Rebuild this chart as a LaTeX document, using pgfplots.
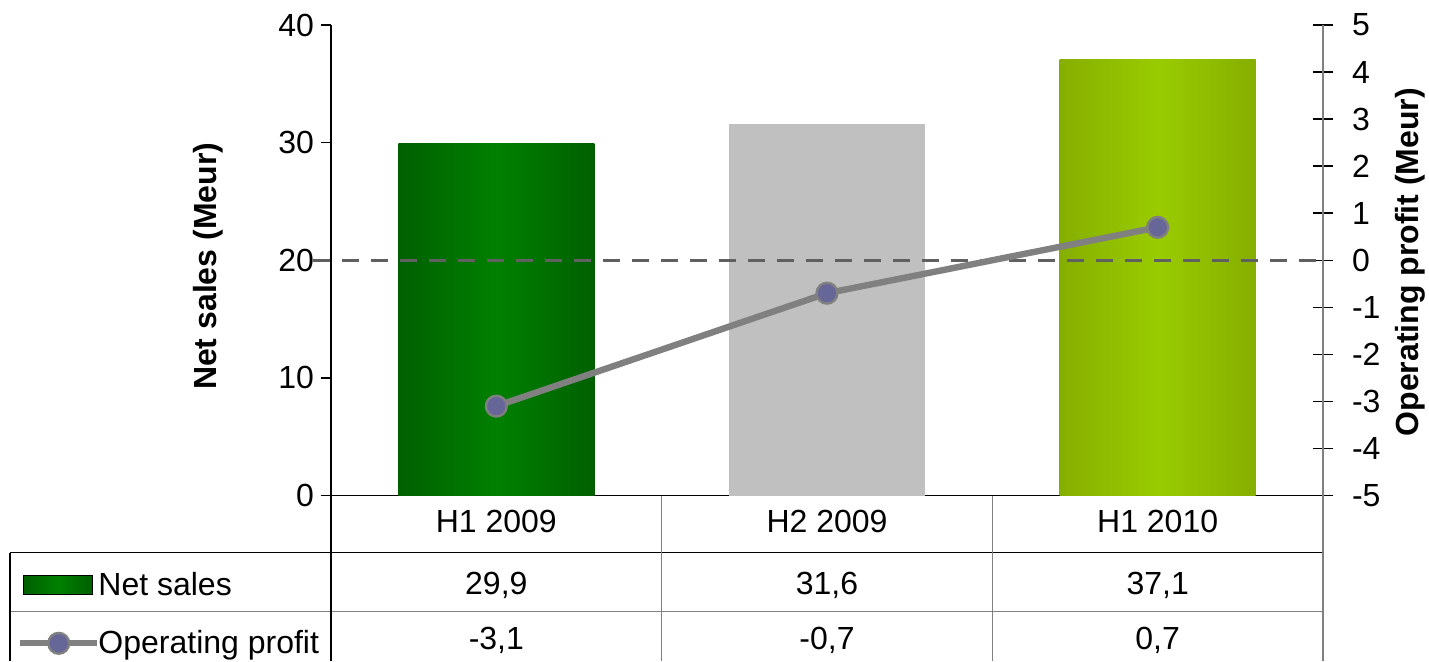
\documentclass[border=0pt]{standalone}
\usepackage{fontspec}
\setmainfont{Liberation Sans}
\usepackage{pgfplots}
\pgfplotsset{compat=1.18}

\definecolor{darkgreenE}{HTML}{006000}
\definecolor{darkgreenM}{HTML}{008000}
\definecolor{limeE}{HTML}{86AE00}
\definecolor{limeM}{HTML}{99CC00}
\definecolor{barGray}{HTML}{C0C0C0}
\definecolor{lineGray}{HTML}{808080}
\definecolor{markBlue}{HTML}{666699}
\definecolor{zeroGray}{HTML}{606060}

\newcommand\tabfont{\fontsize{16}{19}\selectfont}
\newcommand\labfont{\fontsize{16}{19}\selectfont\bfseries}

\begin{document}
\begin{tikzpicture}
\useasboundingbox (-165.5pt,-82.75pt) rectangle (549pt,247.75pt);

% Net sales bars, left axis
\begin{axis}[
  at={(0pt,0pt)}, anchor=south west,
  scale only axis, width=496pt, height=235.25pt,
  xmin=-0.5, xmax=2.5, ymin=0, ymax=40,
  axis x line=bottom, axis y line=left,
  axis line style={-, line width=0.75pt, black},
  xtick={0,1,2}, xticklabels={H1 2009, H2 2009, H1 2010},
  xtick style={draw=none},
  xticklabel style={anchor=base, yshift=-13.25pt},
  ytick={0,10,20,30,40},
  ytick style={line width=0.75pt, black},
  tick align=outside, major tick length=5pt,
  /pgf/number format/assume math mode=true,
  tick label style={font=\tabfont},
  ylabel={Net sales (Meur)},
  ylabel style={font=\labfont, at={(axis description cs:-0.124,0.487)}, anchor=center},
  clip=false,
]
\addplot[ybar, bar width=98pt, bar shift=0pt, draw=none,
  left color=darkgreenE, right color=darkgreenE, middle color=darkgreenM]
  coordinates {(0,29.9)};
\addplot[ybar, bar width=98pt, bar shift=0pt, draw=none, fill=barGray]
  coordinates {(1,31.6)};
\addplot[ybar, bar width=98pt, bar shift=0pt, draw=none,
  left color=limeE, right color=limeE, middle color=limeM]
  coordinates {(2,37.1)};
\end{axis}

% Operating profit line, right axis
\begin{axis}[
  at={(0pt,0pt)}, anchor=south west,
  scale only axis, width=496pt, height=235.25pt,
  xmin=-0.5, xmax=2.5, ymin=-5, ymax=5,
  axis x line=none, axis y line=right,
  axis line style={-, line width=0.75pt, lineGray},
  ytick={-5,-4,...,5},
  yticklabels={-5,-4,-3,-2,-1,0,1,2,3,4,5},
  yticklabel style={xshift=6pt},
  ytick style={line width=0.75pt, black},
  tick align=center, major tick length=10pt,
  tick label style={font=\tabfont},
  ylabel={Operating profit (Meur)},
  ylabel style={font=\labfont, at={(axis description cs:1.0877,0.496)}, anchor=center},
  clip=false,
  legend cell align=left,
  legend style={at={(axis description cs:-0.3165,-0.1626)}, anchor=north west,
    draw=none, fill=none, inner sep=0pt, outer sep=0pt,
    row sep=16pt, column sep=-1pt, font=\tabfont,
    nodes={inner sep=0pt}},
]
\addplot[zeroGray, line width=1.5pt, dash pattern=on 8.5pt off 6pt, forget plot]
  coordinates {(-0.554,0) (2.5,0)};
\addlegendimage{legend image code/.code={
  \fill[left color=darkgreenE, right color=darkgreenE, middle color=darkgreenM]
    (1.5pt,-4.75pt) rectangle (36pt,4.75pt);}}
\addlegendentry{Net sales}
\addplot[lineGray, line width=3.2pt, mark=*, mark size=5.2pt,
  mark options={fill=markBlue, draw=lineGray, line width=1.2pt},
  legend image code/.code={
    \draw[mark repeat=2, mark phase=2] plot coordinates {(0pt,0pt) (19.25pt,0pt) (38.5pt,0pt)};}]
  coordinates {(0,-3.1) (1,-0.7) (2,0.7)};
\addlegendentry{Operating profit}
\end{axis}

% data table under the chart
\draw[black, line width=0.75pt] (-160.5pt,-28.5pt) -- (496pt,-28.5pt);
\draw[lineGray, line width=0.75pt] (-160.5pt,-58pt) -- (496pt,-58pt);
\draw[black, line width=0.75pt] (-160.5pt,-28.5pt) -- (-160.5pt,-82.75pt);
\draw[black, line width=0.75pt] (0pt,0pt) -- (0pt,-82.75pt);
\draw[lineGray, line width=0.75pt] (165.33pt,0pt) -- (165.33pt,-82.75pt);
\draw[lineGray, line width=0.75pt] (330.67pt,0pt) -- (330.67pt,-82.75pt);
\draw[lineGray, line width=0.75pt] (496pt,0pt) -- (496pt,-82.75pt);

\node[font=\tabfont, anchor=base] at (82.67pt,-49.25pt) {29,9};
\node[font=\tabfont, anchor=base] at (248pt,-49.25pt) {31,6};
\node[font=\tabfont, anchor=base] at (413.33pt,-49.25pt) {37,1};
\node[font=\tabfont, anchor=base] at (82.67pt,-76.75pt) {-3,1};
\node[font=\tabfont, anchor=base] at (248pt,-76.75pt) {-0,7};
\node[font=\tabfont, anchor=base] at (413.33pt,-76.75pt) {0,7};
\end{tikzpicture}
\end{document}
